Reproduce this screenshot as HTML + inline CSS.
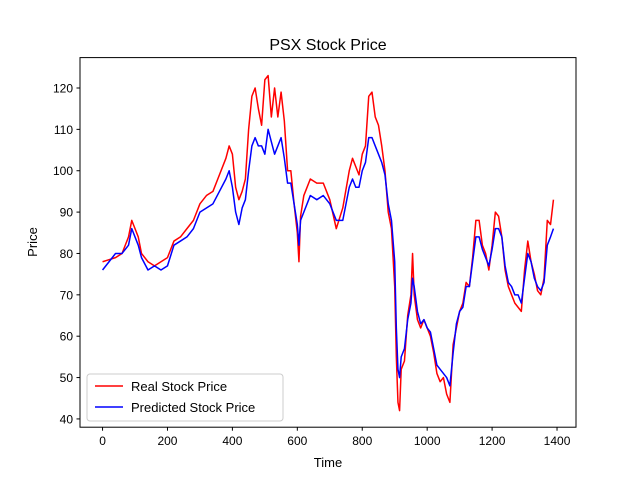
<!DOCTYPE html>
<html><head><meta charset="utf-8"><style>
body{margin:0;background:#fff}
svg{display:block;font-family:"Liberation Sans","DejaVu Sans",sans-serif}
</style></head><body>
<svg id="chart" width="640" height="480">
<rect width="640" height="480" fill="#fff"/>
<text x="328" y="50" font-size="16" text-anchor="middle">PSX Stock Price</text>
<g id="plot"></g>
<rect x="80" y="57.6" width="496" height="369.6" fill="none" stroke="#000" stroke-width="1"/>
<g id="axes"></g>
<text x="328" y="467" font-size="13" text-anchor="middle">Time</text>
<text x="37" y="242" font-size="13" text-anchor="middle" transform="rotate(-90 37 242)">Price</text>
<g>
<rect x="87" y="374" width="196" height="47" rx="3" fill="#fff" fill-opacity="0.8" stroke="#ccc"/>
<g><line x1="95" y1="386" x2="123" y2="386" stroke="#f00" stroke-width="1.5"/><text x="131" y="391" font-size="13">Real Stock Price</text></g>
<g><line x1="95" y1="407" x2="123" y2="407" stroke="#00f" stroke-width="1.5"/><text x="131" y="412" font-size="13">Predicted Stock Price</text></g>
</g>
</svg>
<script>
const idx=[0,20,40,60,80,90,100,110,120,140,160,180,200,220,240,260,280,300,320,340,360,380,390,400,410,420,430,440,450,460,470,480,490,500,510,520,530,540,550,560,570,580,590,600,605,610,620,640,660,680,700,720,740,760,770,780,790,800,810,820,830,840,850,860,870,880,890,900,905,910,915,920,930,940,950,955,960,970,980,990,1000,1010,1020,1030,1040,1050,1060,1070,1080,1090,1100,1110,1120,1130,1140,1150,1160,1170,1180,1190,1200,1210,1220,1230,1240,1250,1260,1270,1280,1290,1300,1310,1320,1330,1340,1350,1360,1370,1380,1389];
const realPrice=[78,78.5,79,80,84,88,86,84,80,78,77,78,79,83,84,86,88,92,94,95,99,103,106,104,96,93,95,98,110,118,120,115,111,122,123,113,120,113,119,112,100,100,92,85,78,89,94,98,97,97,93,86,91,100,103,101,99,104,106,118,119,113,111,106,100,90,86,72,55,44,42,52,54,65,70,80,70,64,62,64,62,60,56,51,49,50,46,44,58,62,66,68,73,72,79,88,88,82,80,76,82,90,89,84,76,72,70,68,67,66,76,83,78,75,71,70,74,88,87,93];
const predPrice=[76,78,80,80,82,86,84,82,79,76,77,76,77,82,83,84,86,90,91,92,95,98,100,96,90,87,91,93,100,106,108,106,106,104,110,107,104,106,108,103,97,97,92,87,82,88,90,94,93,94,92,88,88,96,98,96,96,100,102,108,108,106,104,102,99,92,88,78,62,52,50,55,57,64,68,74,72,66,63,64,62,61,57,53,52,51,50,48,56,63,66,67,72,72,78,84,84,81,79,77,81,86,86,84,77,73,72,70,70,68,74,80,78,74,72,71,73,82,84,86];
const xTicks=[0,200,400,600,800,1000,1200,1400];
const yTicks=[40,50,60,70,80,90,100,110,120];
const X0=80,X1=576,Y0=427.2,Y1=57.6,xmin=-69.45,xmax=1458.45,ymin=38.0,ymax=127.35;
const sx=v=>X0+(v-xmin)/(xmax-xmin)*(X1-X0);
const sy=v=>Y0-(v-ymin)/(ymax-ymin)*(Y0-Y1);
const NS='http://www.w3.org/2000/svg';
const plot=document.getElementById('plot'),axes=document.getElementById('axes');
function line(vals,color,name){
  const p=document.createElementNS(NS,'path');
  p.setAttribute('d',vals.map((v,i)=>(i?'L':'M')+sx(idx[i]).toFixed(2)+' '+sy(v).toFixed(2)).join(''));
  p.setAttribute('fill','none');p.setAttribute('stroke',color);p.setAttribute('stroke-width','1.5');p.setAttribute('stroke-linejoin','round');
  
  
  plot.appendChild(p);
}
line(realPrice,'#f00','real-price-line');
line(predPrice,'#00f','predicted-price-line');
xTicks.forEach(t=>{
  const g=document.createElementNS(NS,'g');
  
  
  const x=sx(t);
  g.innerHTML=`<line x1="${x}" y1="427.2" x2="${x}" y2="430.7" stroke="#000"/><text x="${x}" y="445" font-size="12" text-anchor="middle">${t}</text>`;
  axes.appendChild(g);
});
yTicks.forEach(t=>{
  const g=document.createElementNS(NS,'g');
  
  
  const y=sy(t);
  g.innerHTML=`<line x1="76.5" y1="${y}" x2="80" y2="${y}" stroke="#000"/><text x="73" y="${y+4.5}" font-size="12" text-anchor="end">${t}</text>`;
  axes.appendChild(g);
});
</script>
</body></html>
